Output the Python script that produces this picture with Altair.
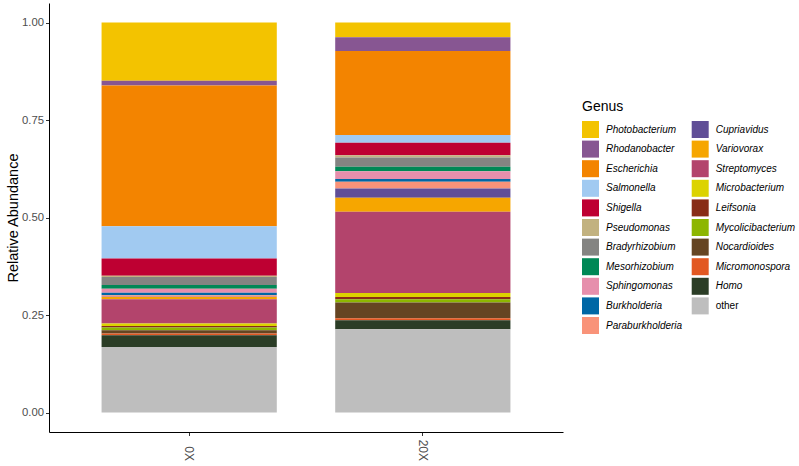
import altair as alt
import pandas as pd

samples = ["0X", "20X"]
genera = ["Photobacterium", "Rhodanobacter", "Escherichia", "Salmonella", "Shigella",
          "Pseudomonas", "Bradyrhizobium", "Mesorhizobium", "Sphingomonas", "Burkholderia",
          "Paraburkholderia", "Cupriavidus", "Variovorax", "Streptomyces", "Microbacterium",
          "Leifsonia", "Mycolicibacterium", "Nocardioides", "Micromonospora", "Homo", "other"]
colors = ["#F3C300", "#875692", "#F38400", "#A1CAF1", "#BE0032",
          "#C2B280", "#848482", "#008856", "#E68FAC", "#0067A5",
          "#F99379", "#604E97", "#F6A600", "#B3446C", "#DCD300",
          "#882D17", "#8DB600", "#654522", "#E25822", "#2B3D26", "#BEBEBE"]
abund_0x = [0.149, 0.012, 0.361, 0.083, 0.044,
            0.0035, 0.0205, 0.0095, 0.0103, 0.006,
            0.004, 0.001, 0.0055, 0.0624, 0.006,
            0.004, 0.007, 0.0085, 0.0045, 0.030, 0.168]
abund_20x = [0.0372, 0.0354, 0.2156, 0.020, 0.032,
             0.0056, 0.0236, 0.0118, 0.0198, 0.0072,
             0.0172, 0.0236, 0.0359, 0.2081, 0.0103,
             0.0062, 0.008, 0.0403, 0.0056, 0.0231, 0.2132]

rows = []
n = len(genera)
for s, vals in zip(samples, [abund_0x, abund_20x]):
    for i, (g, v) in enumerate(zip(genera, vals)):
        rows.append({"Sample": s, "Genus": g, "Abundance": v, "rank": n - 1 - i})
df = pd.DataFrame(rows)

FONT = "Liberation Sans"

chart = alt.Chart(df).mark_bar(strokeWidth=0).encode(
    x=alt.X("Sample:N", sort=samples,
            scale=alt.Scale(paddingInner=0.25, paddingOuter=0.225),
            axis=alt.Axis(title=None, labelAngle=90, labelAlign="right", labelBaseline="middle",
                          labelPadding=25, tickSize=3.5, tickColor="#333333",
                          domainColor="black", domainWidth=1,
                          labelColor="#4D4D4D", labelFontSize=12, labelFont=FONT)),
    y=alt.Y("Abundance:Q", stack="zero",
            scale=alt.Scale(domain=[-0.05, 1.05], nice=False, zero=False),
            axis=alt.Axis(title="Relative Abundance", values=[0, 0.25, 0.5, 0.75, 1.0],
                          format=".2f", grid=False, tickSize=3.5, tickColor="#333333",
                          domainColor="black", domainWidth=1,
                          labelColor="#4D4D4D", labelFontSize=11.3, labelFont=FONT,
                          labelPadding=2, titleFont=FONT, titleFontSize=14.5,
                          titleFontWeight="normal", titleColor="black", titlePadding=1)),
    color=alt.Color("Genus:N",
                    scale=alt.Scale(domain=genera, range=colors),
                    legend=alt.Legend(title="Genus", orient="none", legendX=533, legendY=97,
                                      columns=2, symbolType="square", symbolSize=289,
                                      symbolStrokeWidth=0, symbolOpacity=1,
                                      labelFont=FONT, labelFontSize=10, labelColor="black",
                                      labelFontStyle={"expr": "datum.label == 'other' ? 'normal' : 'italic'"},
                                      labelOffset=7, rowPadding=2.6, columnPadding=8.7,
                                      titleFont=FONT, titleFontSize=14, titleFontWeight="normal",
                                      titleColor="black", titlePadding=7, padding=0,
                                      labelLimit=200)),
    order=alt.Order("rank:Q", sort="ascending"),
).properties(
    width=514, height=429,
    padding={"left": 49, "top": 3, "right": 236, "bottom": 34},
    autosize=alt.AutoSizeParams(type="none"),
    background="white",
).configure_view(stroke=None, strokeWidth=0)

chart.save("out.html", embed_options={"renderer": "svg", "actions": False})
